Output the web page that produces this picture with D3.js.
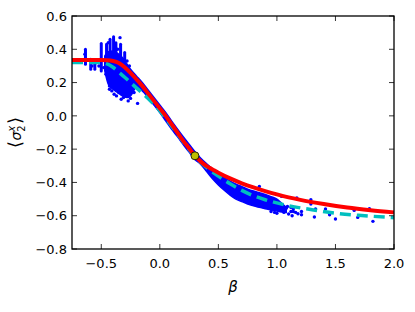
<!DOCTYPE html>
<html><head><meta charset="utf-8">
<script src="https://cdn.jsdelivr.net/npm/d3@7"></script>
<style>body{margin:0;background:#fff} text{font-family:"DejaVu Sans",sans-serif}</style>
</head><body><svg id="c" width="415" height="312"></svg>
<script>
// ---- data ----
const xTicks = [-0.5, 0, 0.5, 1.0, 1.5, 2.0];
const yTicks = [-0.8, -0.6, -0.4, -0.2, 0, 0.2, 0.4, 0.6];

const redX = [-0.75,-0.5,-0.45,-0.4,-0.35,-0.3,-0.25,-0.2,-0.15,-0.1,-0.05,0,0.05,0.1,0.15,0.2,0.25,0.3,0.35,0.4,0.45,0.5,0.6,0.7,0.8,0.9,1.0,1.1,1.2,1.4,1.6,1.8,2.0];
const redY = [0.335,0.335,0.334,0.33,0.318,0.292,0.258,0.22,0.18,0.135,0.09,0.045,0.0,-0.05,-0.1,-0.15,-0.195,-0.24,-0.275,-0.302,-0.322,-0.342,-0.376,-0.405,-0.43,-0.452,-0.472,-0.49,-0.505,-0.53,-0.551,-0.567,-0.58];

const cyanX = [-0.75,-0.5,-0.45,-0.4,-0.35,-0.3,-0.25,-0.2,-0.1,0,0.1,0.2,0.3,0.4,0.5,0.6,0.7,0.8,0.9,1.0,1.1,1.3,1.5,1.75,2.0];
const cyanY = [0.32,0.32,0.312,0.292,0.262,0.232,0.2,0.168,0.105,0.03,-0.06,-0.155,-0.245,-0.31,-0.362,-0.408,-0.448,-0.48,-0.504,-0.523,-0.54,-0.564,-0.585,-0.6,-0.612];

// dense part of the blue scatter (upper / lower envelope)
const bandX  = [-0.47,-0.44,-0.40,-0.36,-0.32,-0.28,-0.25,-0.2,-0.15,-0.1,-0.05,0,0.05,0.1,0.15,0.2,0.25,0.3,0.35,0.4,0.45,0.5,0.55,0.6,0.65,0.7,0.75,0.8,0.85,0.9,0.95,1.0,1.04,1.08];
const bandHi = [0.36,0.385,0.39,0.375,0.35,0.31,0.28,0.24,0.2,0.155,0.11,0.065,0.02,-0.03,-0.078,-0.125,-0.17,-0.215,-0.255,-0.288,-0.318,-0.345,-0.37,-0.392,-0.41,-0.425,-0.44,-0.452,-0.462,-0.472,-0.485,-0.5,-0.525,-0.55];
const bandLo = [0.27,0.19,0.16,0.14,0.12,0.11,0.12,0.17,0.15,0.11,0.065,0.02,-0.03,-0.08,-0.125,-0.172,-0.218,-0.262,-0.292,-0.335,-0.378,-0.415,-0.447,-0.476,-0.5,-0.515,-0.53,-0.54,-0.55,-0.558,-0.565,-0.572,-0.577,-0.58];

// vertical streaks of overlapping blue points near the top-left
const streakX  = [-0.635,-0.59,-0.555,-0.50,-0.455,-0.425,-0.395,-0.375,-0.335,-0.30];
const streakLo = [0.31,0.28,0.28,0.27,0.32,0.34,0.33,0.36,0.36,0.33];
const streakHi = [0.40,0.34,0.31,0.435,0.43,0.46,0.475,0.44,0.43,0.38];

// individual blue points
const blueDots = [
 [-0.64,0.37],[-0.58,0.30],[-0.52,0.30],[-0.48,0.29],[-0.46,0.25],[-0.44,0.44],[-0.34,0.47],[-0.36,0.40],
 [-0.43,0.16],[-0.43,0.18],[-0.43,0.20],[-0.41,0.15],[-0.39,0.13],[-0.37,0.12],[-0.35,0.14],
 [-0.33,0.10],[-0.31,0.11],[-0.29,0.12],[-0.27,0.09],[-0.25,0.105],[-0.22,0.14],[-0.19,0.075],
 [-0.28,0.33],[-0.26,0.30],
 [0.85,-0.424],[1.04,-0.484],[0.95,-0.575],[0.98,-0.58],[1.0,-0.585],
 [1.04,-0.56],[1.06,-0.58],[1.08,-0.555],[1.09,-0.545],[1.10,-0.59],[1.12,-0.55],[1.12,-0.575],
 [1.13,-0.60],[1.14,-0.575],[1.14,-0.56],[1.16,-0.58],[1.17,-0.494],[1.18,-0.588],
 [1.21,-0.575],[1.21,-0.594],[1.29,-0.504],[1.29,-0.53],[1.33,-0.56],[1.32,-0.608],
 [1.415,-0.56],[1.45,-0.594],[1.50,-0.62],[1.66,-0.568],[1.69,-0.61],[1.79,-0.558],[1.82,-0.634]
];

const markX = [0.3];
const markY = [-0.24];

// ---- layout ----
const svg = d3.select("#c");
const L = 72, R = 394, T = 16, B = 249;
const x = d3.scaleLinear().domain([-0.75, 2.0]).range([L, R]);
const y = d3.scaleLinear().domain([-0.8, 0.6]).range([B, T]);

svg.append("defs").append("clipPath").attr("id","clip")
  .append("rect").attr("x",L).attr("y",T).attr("width",R-L).attr("height",B-T);
const g = svg.append("g").attr("clip-path","url(#clip)");

// blue scatter: dense band
g.append("path")
  .datum(bandX.map((d,i)=>[d,bandHi[i],bandLo[i]]))
  .attr("d", d3.area().x(d=>x(d[0])).y0(d=>y(d[2])).y1(d=>y(d[1])).curve(d3.curveMonotoneX))
  .attr("fill","#0000ff").attr("stroke","#0000ff").attr("stroke-width",1.5);
g.selectAll("line.s").data(streakX).join("line").attr("class","s")
  .attr("x1",d=>x(d)).attr("x2",d=>x(d))
  .attr("y1",(d,i)=>y(streakLo[i])).attr("y2",(d,i)=>y(streakHi[i]))
  .attr("stroke","#0000ff").attr("stroke-width",3).attr("stroke-linecap","round");
g.selectAll("circle.b").data(blueDots).join("circle").attr("class","b")
  .attr("cx",d=>x(d[0])).attr("cy",d=>y(d[1])).attr("r",1.7).attr("fill","#0000ff");

// cyan dashed
g.append("path")
  .datum(cyanX.map((d,i)=>[d,cyanY[i]]))
  .attr("d", d3.line().x(d=>x(d[0])).y(d=>y(d[1])).curve(d3.curveMonotoneX))
  .attr("fill","none").attr("stroke","#00bfbf").attr("stroke-width",3.5)
  .attr("stroke-dasharray","11,6");

// red solid
g.append("path")
  .datum(redX.map((d,i)=>[d,redY[i]]))
  .attr("d", d3.line().x(d=>x(d[0])).y(d=>y(d[1])).curve(d3.curveMonotoneX))
  .attr("fill","none").attr("stroke","#ff0000").attr("stroke-width",4);

// marker
svg.selectAll("circle.m").data(markX).join("circle").attr("class","m")
  .attr("cx",d=>x(d)).attr("cy",(d,i)=>y(markY[i])).attr("r",4)
  .attr("fill","#bfbf00").attr("stroke","#000").attr("stroke-width",0.8);

// frame
svg.append("rect").attr("x",L).attr("y",T).attr("width",R-L).attr("height",B-T)
  .attr("fill","none").attr("stroke","#000").attr("stroke-width",1.3);

const tl = 5, fmt = d3.format(".1f");
const ax = svg.append("g").attr("stroke","#000").attr("stroke-width",0.8);
xTicks.forEach(t=>{
  ax.append("line").attr("x1",x(t)).attr("x2",x(t)).attr("y1",B).attr("y2",B-tl);
  ax.append("line").attr("x1",x(t)).attr("x2",x(t)).attr("y1",T).attr("y2",T+tl);
});
yTicks.forEach(t=>{
  ax.append("line").attr("y1",y(t)).attr("y2",y(t)).attr("x1",L).attr("x2",L+tl);
  ax.append("line").attr("y1",y(t)).attr("y2",y(t)).attr("x1",R).attr("x2",R-tl);
});
svg.selectAll("text.xt").data(xTicks).join("text").attr("class","xt")
  .attr("x",d=>x(d)).attr("y",B+19).attr("text-anchor","middle")
  .attr("font-size",13).text(d=>fmt(d));
svg.selectAll("text.yt").data(yTicks).join("text").attr("class","yt")
  .attr("x",L-5).attr("y",d=>y(d)).attr("dy","0.36em").attr("text-anchor","end")
  .attr("font-size",13).text(d=>fmt(d));

// axis labels
svg.append("text").attr("x",(L+R)/2).attr("y",292).attr("text-anchor","middle")
  .attr("font-size",15).attr("font-style","italic").text("β");
const yl = svg.append("text").attr("transform",`translate(21,${(T+B)/2}) rotate(-90)`)
  .attr("text-anchor","middle").attr("font-size",14);
yl.append("tspan").attr("font-size",18).attr("font-weight",300).text("⟨");
yl.append("tspan").attr("font-style","italic").text("σ");
yl.append("tspan").attr("font-size",10).attr("font-style","italic").attr("dy",-6).text("x");
yl.append("tspan").attr("font-size",10).attr("dy",10).attr("dx",-6).text("2");
yl.append("tspan").attr("font-size",18).attr("font-weight",300).attr("dy",-4).attr("dx",1).text("⟩");
</script></body></html>
